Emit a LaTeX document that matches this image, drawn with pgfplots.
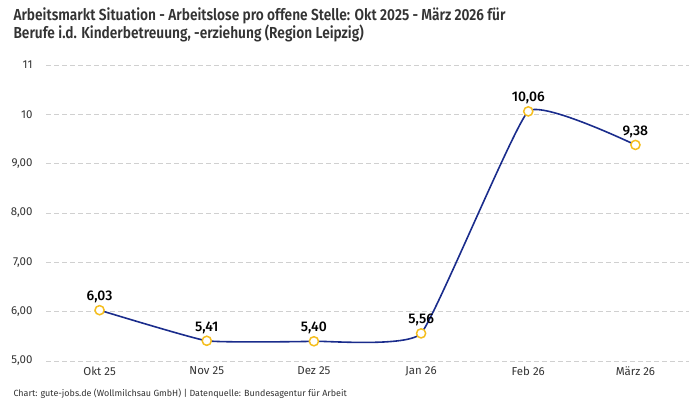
\documentclass[border=0pt]{standalone}
\usepackage{pgfplots}
\pgfplotsset{compat=1.18}
\usepackage{fontspec}
\setmainfont{Fira Sans}
\newfontfamily\titlefont[FakeStretch=0.86]{Fira Sans SemiBold}
\newfontfamily\labelfont{Fira Sans Medium}
\definecolor{linec}{HTML}{1A2C8C}
\definecolor{markc}{HTML}{F5BE1E}
\definecolor{gridc}{HTML}{D0D0D0}
\definecolor{txt}{HTML}{333333}
\begin{document}
\begin{tikzpicture}[x=1bp,y=1bp]
\useasboundingbox (0,0) rectangle (700,400);
\node[anchor=base west, text=txt, font=\titlefont\fontsize{16}{19}\selectfont, align=left] at (10,380) {Arbeitsmarkt Situation - Arbeitslose pro offene Stelle: Okt 2025 - März 2026 für};
\node[anchor=base west, text=txt, font=\titlefont\fontsize{16}{19}\selectfont] at (10,362) {Berufe i.d. Kinderbetreuung, -erziehung (Region Leipzig)};
\begin{axis}[
  at={(46bp,39bp)}, anchor=south west,
  scale only axis, width=643bp, height=296bp,
  xmin=-0.5, xmax=5.5, ymin=5, ymax=11,
  axis line style={draw=none},
  xtick={0,1,2,3,4,5},
  xticklabels={Okt 25,Nov 25,Dez 25,Jan 26,Feb 26,März 26},
  ytick={5,6,7,8,9,10,11},
  yticklabels={5{,}00,6{,}00,7{,}00,8{,}00,9{,}00,10,11},
  ymajorgrids, major grid style={gridc, dash pattern=on 4.5bp off 3.5bp, line width=0.7pt},
  tick style={draw=none},
  ticklabel style={font=\fontsize{11.5}{13}\selectfont, text=txt},
  yticklabel style={xshift=-10bp},
  xticklabel style={yshift=-2bp},
  clip=false,
]
\addplot[linec, line width=1.6pt, smooth, tension=0.22, mark=*, mark size=4.6pt,
  mark options={fill=white, draw=markc, line width=1.5pt},
  nodes near coords, point meta=explicit symbolic,
  every node near coord/.style={font=\labelfont\fontsize{14}{16}\selectfont, text=black, anchor=south, yshift=3bp}]
  coordinates {(0,6.03)[6{,}03] (1,5.41)[5{,}41] (2,5.40)[5{,}40] (3,5.56)[5{,}56] (4,10.06)[10{,}06] (5,9.38)[9{,}38]};
\end{axis}
\node[anchor=base west, text=txt, font=\fontsize{9}{10}\selectfont] at (10,4) {Chart: gute-jobs.de (Wollmilchsau GmbH) | Datenquelle: Bundesagentur für Arbeit};
\end{tikzpicture}
\end{document}
